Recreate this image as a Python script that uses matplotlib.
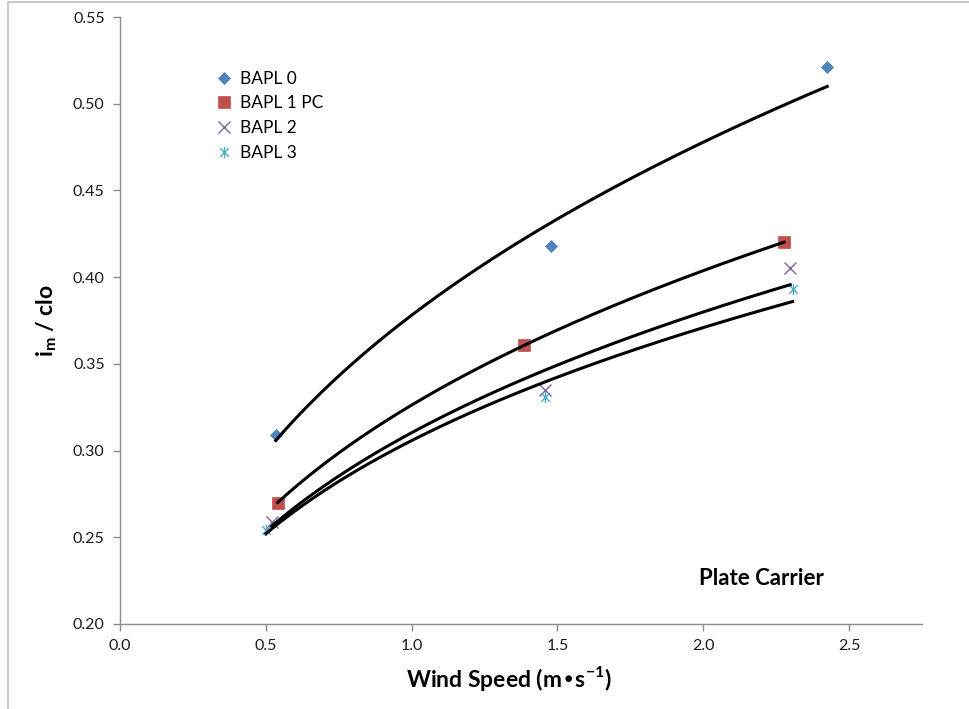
import numpy as np
import matplotlib.pyplot as plt
from matplotlib.path import Path
from matplotlib.patches import Rectangle

plt.rcParams['font.family'] = ['Lato', 'DejaVu Sans']

# wind speed (m/s) and i_m/clo for each body armour protection level
bapl0_x = [0.534, 1.479, 2.425]
bapl0_y = [0.309, 0.418, 0.521]
bapl1_x = [0.541, 1.387, 2.277]
bapl1_y = [0.270, 0.361, 0.420]
bapl2_x = [0.520, 1.459, 2.298]
bapl2_y = [0.259, 0.335, 0.405]
bapl3_x = [0.500, 1.459, 2.306]
bapl3_y = [0.254, 0.331, 0.393]

labels = ['BAPL 0', 'BAPL 1 PC', 'BAPL 2', 'BAPL 3']
colors = ['#4F81BD', '#C0504D', '#8064A2', '#4BACC6']

# excel style star marker: an x with a vertical bar through it
star = Path([(-1, -1), (1, 1), (-1, 1), (1, -1), (0, -1.3), (0, 1.3)],
            [Path.MOVETO, Path.LINETO, Path.MOVETO, Path.LINETO, Path.MOVETO, Path.LINETO])
markers = ['D', 's', 'x', star]
sizes = [6, 8, 8, 8]

fig = plt.figure(figsize=(9.69, 7.09), dpi=100)
ax = fig.add_axes([0.1238, 0.1199, 0.8277, 0.8561])

series = [(bapl0_x, bapl0_y), (bapl1_x, bapl1_y), (bapl2_x, bapl2_y), (bapl3_x, bapl3_y)]
for (xs, ys), lab, c, m, s in zip(series, labels, colors, markers, sizes):
    ax.plot(xs, ys, linestyle='none', marker=m, color=c, markersize=s,
            markeredgewidth=1.0 if m in ('x',) or m is star else 0.5, label=lab, zorder=3)
    # power trendline y = a*x^b (least squares in log space)
    b, loga = np.polyfit(np.log(xs), np.log(ys), 1)
    xx = np.linspace(min(xs), max(xs), 200)
    ax.plot(xx, np.exp(loga) * xx ** b, color='black', lw=2.2, zorder=4)

ax.set_xlim(0, 2.75)
ax.set_ylim(0.20, 0.55)
ax.set_xticks(np.arange(0, 2.51, 0.5))
ax.set_yticks(np.arange(0.20, 0.551, 0.05))
ax.xaxis.set_major_formatter(plt.FormatStrFormatter('%.1f'))
ax.yaxis.set_major_formatter(plt.FormatStrFormatter('%.2f'))

for side in ['top', 'right']:
    ax.spines[side].set_visible(False)
for side in ['left', 'bottom']:
    ax.spines[side].set_color('#8c8c8c')
    ax.spines[side].set_linewidth(1.0)
ax.tick_params(direction='out', length=5, width=1, color='#8c8c8c',
               labelsize=11.5, labelcolor='#1a1a1a', pad=6)

ax.set_xlabel('Wind Speed (m•s$^{\\mathregular{-1}}$)', fontsize=16.5, fontweight='bold', labelpad=5)
ax.xaxis.set_label_coords(0.485, -0.066)
ax.set_ylabel('i$_{\\mathregular{m}}$ / clo', fontsize=16.5, fontweight='bold', labelpad=10)

ax.text(0.80, 0.075, 'Plate Carrier', transform=ax.transAxes, fontsize=16,
        fontweight='bold', ha='center', va='center')

ax.legend(loc='upper left', bbox_to_anchor=(0.108, 0.923), frameon=False,
          fontsize=12.5, handletextpad=0.3, labelspacing=0.5, borderaxespad=0,
          handlelength=1.2)

# thin grey chart border
fig.patches.append(Rectangle((8 / 969, -0.5), 2, 1.5 - 2 / 709, transform=fig.transFigure,
                             fill=False, edgecolor='#bfbfbf', lw=1.2))

fig.savefig('out.png', dpi=100)
